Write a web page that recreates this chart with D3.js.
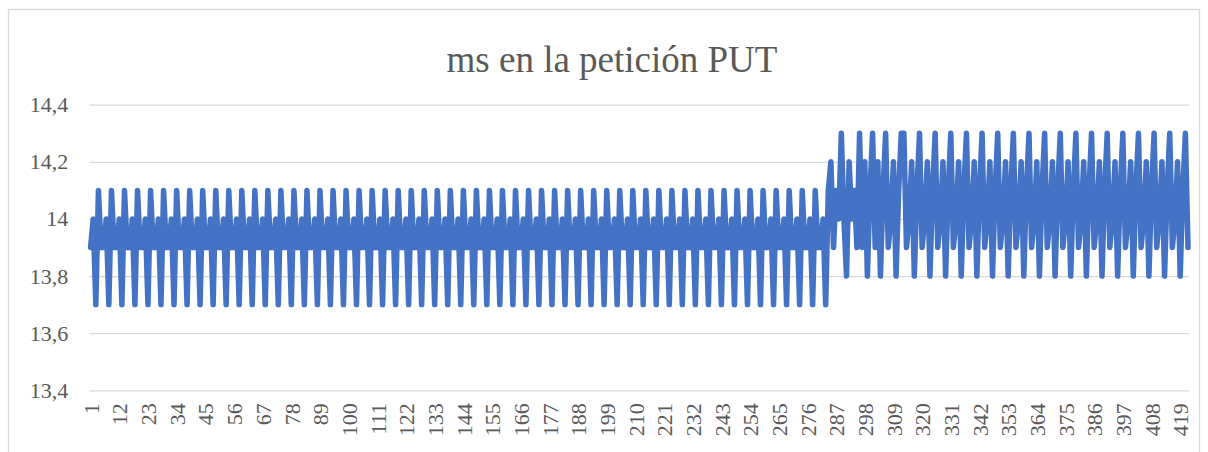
<!DOCTYPE html>
<html>
<head>
<meta charset="utf-8">
<script src="https://cdn.jsdelivr.net/npm/d3@7"></script>
<style>
  html, body { margin: 0; padding: 0; background: #fff; }
  svg { display: block; }
  text { font-family: "Liberation Serif", "Times New Roman", serif; fill: #595959; }
</style>
</head>
<body>
<div id="chart"></div>
<script>
// Chart data
const title = 'ms en la petición PUT';

// values per request (ms)
const msValues = [
  13.9, 14.0, 13.7, 14.1, 13.9, 13.9, 14.0, 13.7, 14.1, 13.9, 13.9, 14.0, 13.7, 14.1, 13.9, 13.9, 14.0, 13.7, 14.1, 13.9,
  13.9, 14.0, 13.7, 14.1, 13.9, 13.9, 14.0, 13.7, 14.1, 13.9, 13.9, 14.0, 13.7, 14.1, 13.9, 13.9, 14.0, 13.7, 14.1, 13.9,
  13.9, 14.0, 13.7, 14.1, 13.9, 13.9, 14.0, 13.7, 14.1, 13.9, 13.9, 14.0, 13.7, 14.1, 13.9, 13.9, 14.0, 13.7, 14.1, 13.9,
  13.9, 14.0, 13.7, 14.1, 13.9, 13.9, 14.0, 13.7, 14.1, 13.9, 13.9, 14.0, 13.7, 14.1, 13.9, 13.9, 14.0, 13.7, 14.1, 13.9,
  13.9, 14.0, 13.7, 14.1, 13.9, 13.9, 14.0, 13.7, 14.1, 13.9, 13.9, 14.0, 13.7, 14.1, 13.9, 13.9, 14.0, 13.7, 14.1, 13.9,
  13.9, 14.0, 13.7, 14.1, 13.9, 13.9, 14.0, 13.7, 14.1, 13.9, 13.9, 14.0, 13.7, 14.1, 13.9, 13.9, 14.0, 13.7, 14.1, 13.9,
  13.9, 14.0, 13.7, 14.1, 13.9, 13.9, 14.0, 13.7, 14.1, 13.9, 13.9, 14.0, 13.7, 14.1, 13.9, 13.9, 14.0, 13.7, 14.1, 13.9,
  13.9, 14.0, 13.7, 14.1, 13.9, 13.9, 14.0, 13.7, 14.1, 13.9, 13.9, 14.0, 13.7, 14.1, 13.9, 13.9, 14.0, 13.7, 14.1, 13.9,
  13.9, 14.0, 13.7, 14.1, 13.9, 13.9, 14.0, 13.7, 14.1, 13.9, 13.9, 14.0, 13.7, 14.1, 13.9, 13.9, 14.0, 13.7, 14.1, 13.9,
  13.9, 14.0, 13.7, 14.1, 13.9, 13.9, 14.0, 13.7, 14.1, 13.9, 13.9, 14.0, 13.7, 14.1, 13.9, 13.9, 14.0, 13.7, 14.1, 13.9,
  13.9, 14.0, 13.7, 14.1, 13.9, 13.9, 14.0, 13.7, 14.1, 13.9, 13.9, 14.0, 13.7, 14.1, 13.9, 13.9, 14.0, 13.7, 14.1, 13.9,
  13.9, 14.0, 13.7, 14.1, 13.9, 13.9, 14.0, 13.7, 14.1, 13.9, 13.9, 14.0, 13.7, 14.1, 13.9, 13.9, 14.0, 13.7, 14.1, 13.9,
  13.9, 14.0, 13.7, 14.1, 13.9, 13.9, 14.0, 13.7, 14.1, 13.9, 13.9, 14.0, 13.7, 14.1, 13.9, 13.9, 14.0, 13.7, 14.1, 13.9,
  13.9, 14.0, 13.7, 14.1, 13.9, 13.9, 14.0, 13.7, 14.1, 13.9, 13.9, 14.0, 13.7, 14.1, 13.9, 13.9, 14.0, 13.7, 14.1, 13.9,
  13.9, 14.0, 13.7,
  // change of regime
  14.1, 14.2, 13.9, 14.1, 14.0, 14.3, 14.0, 13.8, 14.2, 14.0, 14.1, 13.9, 14.3, 13.9, 14.2, 13.8, 14.1,
  14.3, 13.9, 14.2, 13.8, 14.1, 14.3, 13.9, 14.0, 14.2, 13.8, 14.1, 14.3, 14.3, 13.9, 14.0, 14.2, 13.8, 14.1,
  14.3, 13.9, 14.0, 14.2, 13.8, 14.1, 14.3, 13.9, 14.0, 14.2, 13.8, 14.1, 14.3, 13.9, 14.0, 14.2, 13.8, 14.1,
  14.3, 13.9, 14.0, 14.2, 13.8, 14.1, 14.3, 13.9, 14.0, 14.2, 13.8, 14.1, 14.3, 13.9, 14.0, 14.2, 13.8, 14.1,
  14.3, 13.9, 14.0, 14.2, 13.8, 14.1, 14.3, 13.9, 14.0, 14.2, 13.8, 14.1, 14.3, 13.9, 14.0, 14.2, 13.8, 14.1,
  14.3, 13.9, 14.0, 14.2, 13.8, 14.1, 14.3, 13.9, 14.0, 14.2, 13.8, 14.1, 14.3, 13.9, 14.0, 14.2, 13.8, 14.1,
  14.3, 13.9, 14.0, 14.2, 13.8, 14.1, 14.3, 13.9, 14.0, 14.2, 13.8, 14.1, 14.3, 13.9, 14.0, 14.2, 13.8, 14.1,
  14.3, 13.9, 14.0, 14.2, 13.8, 14.1, 14.3, 13.9, 14.0, 14.2, 13.8, 14.1,
  14.3, 13.9
];

// request number for each value (1..422)
const categories = msValues.map((v, i) => i + 1);

// labels shown on the category axis
const xTickLabels = [1, 12, 23, 34, 45, 56, 67, 78, 89, 100, 111, 122, 133, 144, 155, 166, 177, 188, 199,
  210, 221, 232, 243, 254, 265, 276, 287, 298, 309, 320, 331, 342, 353, 364, 375, 386, 397, 408, 419];

const yTicks = [13.4, 13.6, 13.8, 14, 14.2, 14.4];

// Layout
const width = 1208;
const height = 452;
const plot = { left: 89.3, right: 1189.3, top: 104.7, bottom: 390.3 };

const esFormat = d3.formatLocale({ decimal: ',', thousands: '.', grouping: [3], currency: ['', '€'] }).format('~g');

const svg = d3.select('#chart')
  .append('svg')
  .attr('width', width)
  .attr('height', height);

// chart border
svg.append('rect')
  .attr('x', 8.5)
  .attr('y', 9.5)
  .attr('width', 1191)
  .attr('height', 470)
  .attr('fill', '#fff')
  .attr('stroke', '#d9d9d9')
  .attr('stroke-width', 1.3);

// title
svg.append('text')
  .attr('x', 612)
  .attr('y', 72)
  .attr('text-anchor', 'middle')
  .style('font-size', '37px')
  .text(title);

// Scales
const x = d3.scalePoint()
  .domain(categories)
  .range([plot.left, plot.right])
  .padding(0.5);

const y = d3.scaleLinear()
  .domain([13.4, 14.4])
  .range([plot.bottom, plot.top]);

// horizontal gridlines + y labels
const yAxis = d3.axisLeft(y)
  .tickValues(yTicks)
  .tickFormat(esFormat)
  .tickSize(-(plot.right - plot.left))
  .tickPadding(21);

svg.append('g')
  .attr('transform', `translate(${plot.left},0)`)
  .call(yAxis)
  .call(g => g.select('.domain').remove())
  .call(g => g.selectAll('.tick line').attr('stroke', '#d9d9d9').attr('stroke-width', 1.3))
  .call(g => g.selectAll('.tick text')
    .style('font-size', '22px')
    .style('font-family', '"Liberation Serif", "Times New Roman", serif')
    .attr('fill', '#595959'));

// category axis labels, rotated
const xAxis = d3.axisBottom(x)
  .tickValues(xTickLabels)
  .tickSize(0);

svg.append('g')
  .attr('transform', `translate(0,${plot.bottom})`)
  .call(xAxis)
  .call(g => g.select('.domain').remove())
  .call(g => g.selectAll('.tick text')
    .attr('transform', 'rotate(-90)')
    .attr('x', -13)
    .attr('y', 0)
    .attr('dy', '0.35em')
    .attr('text-anchor', 'end')
    .style('font-size', '22px')
    .style('font-family', '"Liberation Serif", "Times New Roman", serif')
    .attr('fill', '#595959'));

// the series line
const line = d3.line()
  .x((d, i) => x(categories[i]))
  .y(d => y(d));

svg.append('path')
  .datum(msValues)
  .attr('d', line)
  .attr('fill', 'none')
  .attr('stroke', '#4472c4')
  .attr('stroke-width', 5.5)
  .attr('stroke-linejoin', 'round')
  .attr('stroke-linecap', 'round');
</script>
</body>
</html>
